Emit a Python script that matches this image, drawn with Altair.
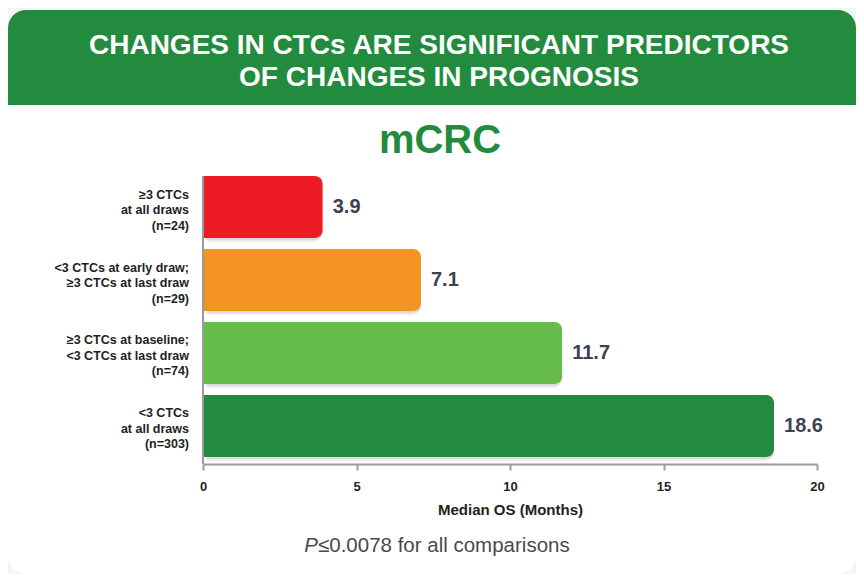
import altair as alt
import pandas as pd

# ---- data ----
CATEGORIES = [
    "≥3 CTCs\nat all draws\n(n=24)",
    "<3 CTCs at early draw;\n≥3 CTCs at last draw\n(n=29)",
    "≥3 CTCs at baseline;\n<3 CTCs at last draw\n(n=74)",
    "<3 CTCs\nat all draws\n(n=303)",
]
MEDIAN_OS = [3.9, 7.1, 11.7, 18.6]
BAR_COLORS = ["#ed1c24", "#f39322", "#67bd4a", "#238b3e"]
X_TICKS = [0, 5, 10, 15, 20]
HEADER_LINES = ["CHANGES IN CTCs ARE SIGNIFICANT PREDICTORS", "OF CHANGES IN PROGNOSIS"]
SUBTITLE = "mCRC"
X_TITLE = "Median OS (Months)"
FOOT_ITALIC = "P"
FOOT_REST = "≤0.0078 for all comparisons"

FONT = "Liberation Sans"
GREEN = "#238b3e"

df = pd.DataFrame({"cat": CATEGORIES, "os": MEDIAN_OS, "color": BAR_COLORS})
one = alt.InlineData(values=[{"a": 1}])

W, H = 614, 288

xscale = alt.Scale(domain=[0, 20], nice=False, zero=True)
yscale = alt.Scale(domain=CATEGORIES, range=[0, 281], paddingInner=0.15, paddingOuter=0)

# card background
card_body = alt.Chart(one).mark_rect(
    color="white", cornerRadiusBottomLeft=18, cornerRadiusBottomRight=18
).encode(x=alt.value(-195), x2=alt.value(653), y=alt.value(-72), y2=alt.value(398))
card_head = alt.Chart(one).mark_rect(
    color=GREEN, cornerRadiusTopLeft=18, cornerRadiusTopRight=18
).encode(x=alt.value(-195), x2=alt.value(653), y=alt.value(-166), y2=alt.value(-71))

header_layers = []
for i, line in enumerate(HEADER_LINES):
    header_layers.append(
        alt.Chart(one).mark_text(
            text=line, font=FONT, fontSize=28, fontWeight="bold", color="white",
            align="center", baseline="middle"
        ).encode(x=alt.value(236), y=alt.value(-130 + 32 * i))
    )

subtitle = alt.Chart(one).mark_text(
    text=SUBTITLE, font=FONT, fontSize=40, fontWeight="bold", color=GREEN,
    align="center", baseline="middle"
).encode(x=alt.value(237), y=alt.value(-35))

base = alt.Chart(df)

shadow1 = base.mark_bar(
    color="#000000", opacity=0.07, cornerRadiusEnd=9, xOffset=4, yOffset=4
).encode(
    x=alt.X("os:Q", scale=xscale),
    y=alt.Y("cat:N", scale=yscale, sort=CATEGORIES, axis=None),
)
shadow2 = base.mark_bar(
    color="#000000", opacity=0.08, cornerRadiusEnd=8, xOffset=2, yOffset=2
).encode(
    x=alt.X("os:Q", scale=xscale),
    y=alt.Y("cat:N", scale=yscale, sort=CATEGORIES, axis=None),
)

bars = base.mark_bar(cornerRadiusEnd=8).encode(
    x=alt.X(
        "os:Q",
        scale=xscale,
        axis=alt.Axis(
            values=X_TICKS, title=X_TITLE, grid=False, zindex=2,
            domainColor="#9a9a9a", domainWidth=2,
            tickColor="#9a9a9a", tickWidth=2, tickSize=6,
            labelFont=FONT, labelFontSize=13, labelFontWeight="bold", labelColor="#231f20",
            labelPadding=10, labelFlush=False,
            titleFont=FONT, titleFontSize=15, titleFontWeight="bold", titleColor="#231f20",
            titlePadding=9,
        ),
    ),
    y=alt.Y("cat:N", scale=yscale, sort=CATEGORIES, axis=None),
    color=alt.Color("color:N", scale=None, legend=None),
)

yrule = alt.Chart(one).mark_rule(color="#9a9a9a", strokeWidth=2).encode(
    x=alt.value(0), y=alt.value(0), y2=alt.value(H)
)

values = base.mark_text(
    font=FONT, fontSize=20, fontWeight="bold", color="#3c4250",
    align="left", baseline="middle", dx=10
).encode(
    x=alt.X("os:Q", scale=xscale),
    y=alt.Y("cat:N", scale=yscale, sort=CATEGORIES, axis=None),
    text=alt.Text("os:Q", format=".1f"),
)

ylabels = base.mark_text(
    font=FONT, fontSize=12.5, fontWeight="bold", color="#231f20",
    align="right", baseline="middle", lineBreak="\n", lineHeight=15.5, dy=-12.5
).encode(
    x=alt.value(-14),
    y=alt.Y("cat:N", scale=yscale, sort=CATEGORIES, axis=None),
    text="cat:N",
)

foot_p = alt.Chart(one).mark_text(
    text=FOOT_ITALIC, font=FONT, fontSize=20.5, fontStyle="italic", color="#4a4a4a",
    align="right", baseline="middle"
).encode(x=alt.value(115), y=alt.value(370))
foot_rest = alt.Chart(one).mark_text(
    text=FOOT_REST, font=FONT, fontSize=20.5, color="#4a4a4a",
    align="left", baseline="middle"
).encode(x=alt.value(115), y=alt.value(370))

chart = alt.layer(
    card_body, card_head, *header_layers, subtitle,
    shadow1, shadow2, bars, yrule, values, ylabels, foot_p, foot_rest
).properties(
    width=W, height=H,
    autosize=alt.AutoSizeParams(type="none"),
    padding={"left": 195, "top": 168, "right": 39, "bottom": 110},
    background="#f4f4f4",
).configure_view(stroke=None)

chart.save("out.html", embed_options={"renderer": "svg", "actions": False})
